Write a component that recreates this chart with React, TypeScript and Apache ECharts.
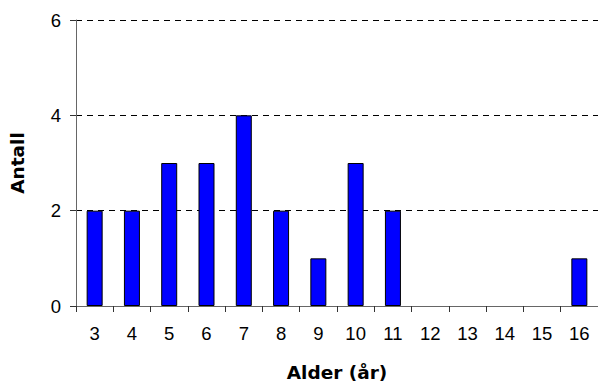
import React, { useEffect, useRef } from "react";
import * as echarts from "echarts";

const categories = ["3", "4", "5", "6", "7", "8", "9", "10", "11", "12", "13", "14", "15", "16"];
const counts = [2, 2, 3, 3, 4, 2, 1, 3, 2, 0, 0, 0, 0, 1];

const TITLE_FONT = "DejaVu Sans, Arial, sans-serif";
const LABEL_FONT = "Liberation Sans, Arial, sans-serif";

export default function App() {
  const ref = useRef<HTMLDivElement>(null);
  useEffect(() => {
    if (!ref.current) return;
    const chart = echarts.init(ref.current, null, { renderer: "svg" });
    chart.setOption({
      animation: false,
      grid: { left: 72, right: -2, top: 20, bottom: 81, containLabel: false },
      xAxis: {
        type: "category",
        data: categories,
        name: "Alder (år)",
        nameLocation: "middle",
        nameGap: 57,
        nameTextStyle: { fontFamily: TITLE_FONT, fontSize: 18.5, fontWeight: "bold", color: "#000" },
        axisLine: { lineStyle: { color: "#666", width: 1 } },
        axisTick: { show: true, alignWithLabel: false, length: 6, lineStyle: { color: "#333" } },
        axisLabel: { fontFamily: LABEL_FONT, fontSize: 18.5, color: "#000", margin: 18 },
        splitLine: { show: false },
      },
      yAxis: {
        type: "value",
        min: 0,
        max: 6,
        interval: 2,
        name: "Antall",
        nameLocation: "middle",
        nameGap: 49,
        nameTextStyle: { fontFamily: TITLE_FONT, fontSize: 18.5, fontWeight: "bold", color: "#000" },
        axisLine: { show: true, lineStyle: { color: "#666", width: 1 } },
        axisTick: { show: true, length: 6, lineStyle: { color: "#333" } },
        axisLabel: { fontFamily: LABEL_FONT, fontSize: 18.5, color: "#000", margin: 15 },
        splitLine: { show: true, lineStyle: { color: "#000", type: [6, 5], width: 1 } },
      },
      series: [
        {
          type: "bar",
          data: counts.map((v) => (v === 0 ? { value: v, itemStyle: { borderWidth: 0 } } : v)),
          barWidth: 16,
          itemStyle: { color: "#0000FF", borderColor: "#000", borderWidth: 1 },
        },
      ],
    });
    return () => chart.dispose();
  }, []);
  return <div ref={ref} style={{ width: 598, height: 387, position: "absolute", left: 0, top: 0 }} />;
}
